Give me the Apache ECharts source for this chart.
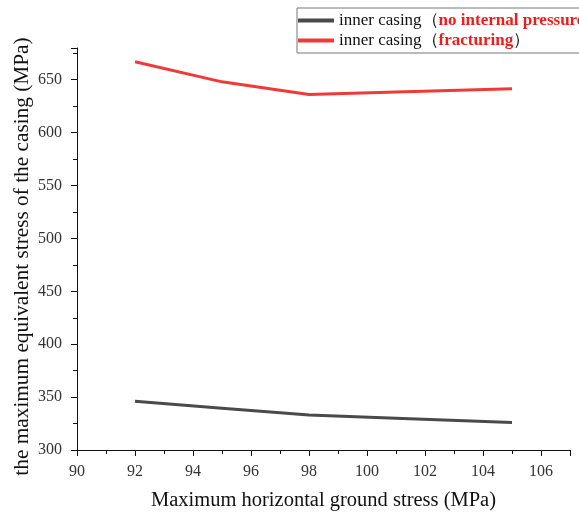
<!DOCTYPE html>
<html>
<head>
<meta charset="utf-8">
<script src="https://cdn.jsdelivr.net/npm/echarts@6/dist/echarts.min.js"></script>
<style>
  html, body { margin: 0; padding: 0; background: #fff; }
  #chart { width: 579px; height: 513px; }
</style>
</head>
<body>
<div id="chart"></div>
<script>
  // horizontal stress (MPa)
  const stressX = [92, 95, 98, 101, 105]
  // max equivalent stress, no internal pressure
  const noPressure = [346, 339.5, 333, 330, 326]
  // max equivalent stress, fracturing
  const fracturing = [667, 648, 636, 638.5, 641.5]
  const seriesNames = ['no internal pressure', 'fracturing']

  const font = 'Liberation Serif'

  const chart = echarts.init(document.getElementById('chart'))

  const toPairs = vals => stressX.map((x, i) => [x, vals[i]])

  const tickLabel = {
    showMaxLabel: false,
    fontFamily: font,
    fontSize: 16,
    color: '#333'
  }

  chart.setOption({
    animation: false,
    textStyle: { fontFamily: font },
    grid: { left: 77, right: 9, top: 48, bottom: 63, outerBoundsMode: 'none', containLabel: false },
    legend: {
      orient: 'vertical',
      left: 297,
      top: 8,
      padding: [4, 8, 4, 1],
      itemGap: 3,
      itemWidth: 36,
      itemHeight: 4,
      icon: 'rect',
      borderColor: '#777',
      borderWidth: 1,
      data: seriesNames,
      formatter: name => '{a|inner casing（}{b|' + name + '}{a|）}',
      textStyle: {
        fontFamily: font,
        rich: {
          a: { fontFamily: font, fontSize: 17, color: '#111' },
          b: { fontFamily: font, fontSize: 17, color: '#f01c1c', fontWeight: 'bold' }
        }
      }
    },
    xAxis: {
      type: 'value',
      min: 90,
      max: 107,
      interval: 2,
      name: 'Maximum horizontal ground stress (MPa)',
      nameLocation: 'middle',
      nameGap: 40,
      nameMoveOverlap: false,
      nameTextStyle: { fontFamily: font, fontSize: 20.5, color: '#111' },
      axisLine: { lineStyle: { color: '#111', width: 1 } },
      axisTick: { inside: false, length: 6, lineStyle: { color: '#111' } },
      minorTick: { show: true, splitNumber: 2, length: 4, lineStyle: { color: '#111' } },
      axisLabel: Object.assign({ margin: 14 }, tickLabel),
      splitLine: { show: false }
    },
    yAxis: {
      type: 'value',
      min: 300,
      max: 680,
      interval: 50,
      name: 'the maximum equivalent stress of the casing (MPa)',
      nameLocation: 'middle',
      nameGap: 44,
      nameMoveOverlap: false,
      nameTextStyle: { fontFamily: font, fontSize: 21.3, color: '#111', padding: [0, 15, 0, 0] },
      axisLine: { show: true, lineStyle: { color: '#111', width: 1 } },
      axisTick: { show: true, inside: false, length: 6, lineStyle: { color: '#111' } },
      minorTick: { show: true, splitNumber: 2, length: 4, lineStyle: { color: '#111' } },
      axisLabel: Object.assign({ margin: 15 }, tickLabel),
      splitLine: { show: false }
    },
    series: [
      {
        name: seriesNames[0],
        type: 'line',
        data: toPairs(noPressure),
        showSymbol: false,
        symbol: 'none',
        color: '#4a4a4a',
        lineStyle: { width: 3, color: '#4a4a4a' }
      },
      {
        name: seriesNames[1],
        type: 'line',
        data: toPairs(fracturing),
        showSymbol: false,
        symbol: 'none',
        color: '#f03a3a',
        lineStyle: { width: 3, color: '#f03a3a' }
      }
    ]
  })
</script>
</body>
</html>
